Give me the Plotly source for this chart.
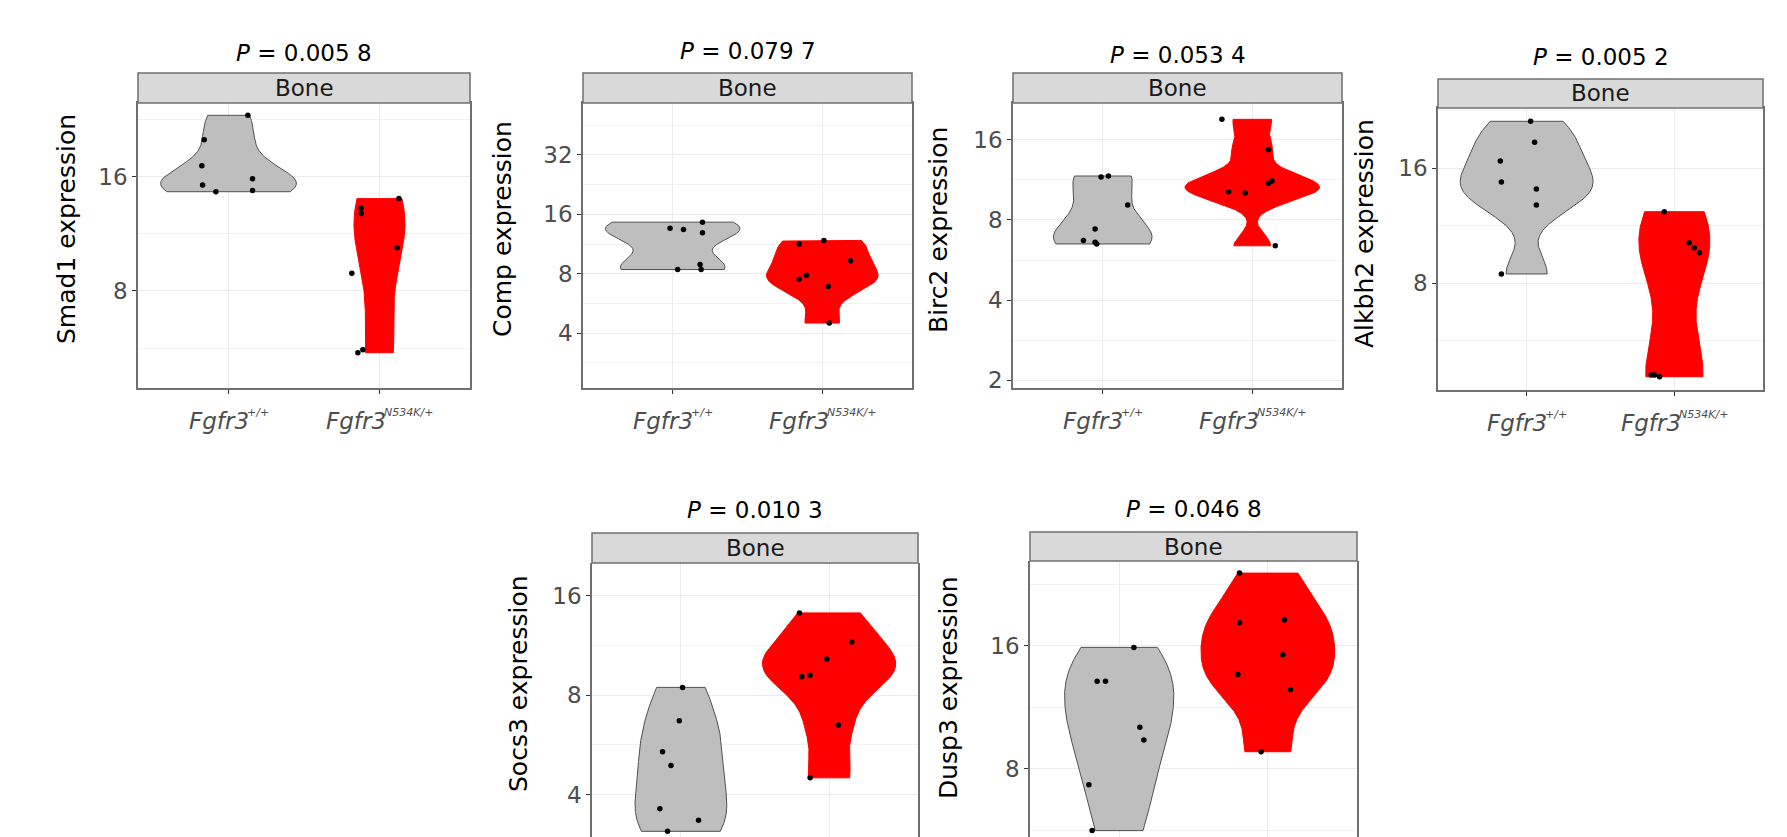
import numpy as np
import plotly.graph_objects as go

W, H = 1787, 837

# ---------------- data ----------------
genes = ["Smad1", "Comp", "Birc2", "Alkbh2", "Socs3", "Dusp3"]
p_values = ["0.005 8", "0.079 7", "0.053 4", "0.005 2", "0.010 3", "0.046 8"]
facet_label = "Bone"
group_names = ["Fgfr3", "Fgfr3"]
group_sup = ["+/+", "N534K/+"]

smad1_wt = [23.2, 20.0, 17.1, 15.2, 14.6, 15.8, 14.7]
smad1_mut = [14.0, 13.2, 12.8, 10.4, 8.9, 5.5, 5.6]
comp_wt = [13.6, 13.4, 14.6, 12.9, 8.4, 8.9, 8.4]
comp_mut = [11.3, 11.8, 9.3, 7.5, 7.85, 6.9, 4.5]
birc2_wt = [11.6, 11.7, 9.1, 7.4, 6.7, 6.6, 6.5]
birc2_mut = [19.1, 14.7, 11.0, 11.2, 10.2, 10.1, 6.4]
alkbh2_wt = [21.2, 18.7, 16.7, 14.7, 14.1, 12.8, 8.45]
alkbh2_mut = [12.3, 10.2, 9.9, 9.6, 4.6, 4.55, 4.6]
socs3_wt = [8.45, 6.7, 5.4, 4.9, 3.63, 3.35, 3.10]
socs3_mut = [14.2, 11.6, 10.3, 9.1, 9.2, 6.5, 4.5]
dusp3_wt = [15.85, 13.1, 13.1, 10.1, 9.4, 7.3, 5.64]
dusp3_mut = [24.1, 18.2, 18.5, 15.2, 13.6, 12.5, 8.8]

# horizontal jitter of the points (category units)
smad1_wt_jit = [0.128, -0.161, -0.177, -0.172, -0.084, 0.159, 0.159]
smad1_mut_jit = [0.129, -0.121, -0.121, 0.117, -0.183, -0.143, -0.110]
comp_wt_jit = [-0.018, 0.072, 0.199, 0.199, 0.033, 0.183, 0.190]
comp_mut_jit = [-0.154, 0.011, 0.189, -0.154, -0.105, 0.040, 0.047]
birc2_wt_jit = [-0.011, 0.038, 0.167, -0.051, -0.129, -0.051, -0.040]
birc2_mut_jit = [-0.203, 0.109, 0.109, 0.132, -0.158, -0.047, 0.154]
alkbh2_wt_jit = [0.027, 0.054, -0.178, -0.171, 0.066, 0.066, -0.171]
alkbh2_mut_jit = [-0.068, 0.100, 0.135, 0.170, -0.157, -0.100, -0.135]
socs3_wt_jit = [0.011, -0.011, -0.124, -0.067, -0.142, 0.119, -0.090]
socs3_mut_jit = [-0.200, 0.153, -0.015, -0.184, -0.128, 0.063, -0.128]
dusp3_wt_jit = [0.099, -0.148, -0.092, 0.139, 0.166, -0.204, -0.182]
dusp3_mut_jit = [-0.190, -0.190, 0.112, 0.101, -0.202, 0.153, -0.045]

# visible y limits of each panel (expression, log2 scale)
y_low = [4.44, 2.11, 1.87, 4.20, 2.98, 5.44]
y_high = [25.0, 58.6, 22.0, 22.97, 20.1, 25.8]
major_ticks = [2, 4, 8, 16, 32]

wt_values = [smad1_wt, comp_wt, birc2_wt, alkbh2_wt, socs3_wt, dusp3_wt]
mut_values = [smad1_mut, comp_mut, birc2_mut, alkbh2_mut, socs3_mut, dusp3_mut]
wt_jitter = [smad1_wt_jit, comp_wt_jit, birc2_wt_jit, alkbh2_wt_jit, socs3_wt_jit, dusp3_wt_jit]
mut_jitter = [smad1_mut_jit, comp_mut_jit, birc2_mut_jit, alkbh2_mut_jit, socs3_mut_jit, dusp3_mut_jit]

# ---------------- layout geometry (pixels) ----------------
# x0, x1, strip_top, plot_top, plot_bottom, title_y, ytitle_x, ytitle_y, bottom_row
panels = [
    (138, 470, 73, 103, 388, 53, 67, 229, False),
    (583, 912, 73, 103, 388, 51, 503, 229, False),
    (1013, 1342, 73, 103, 388, 55, 938, 230, False),
    (1438, 1763, 79, 108, 390, 57, 1365, 234, False),
    (592, 918, 533, 563, 837, 510, 518, 684, True),
    (1030, 1357, 532, 561, 837, 509, 948, 688, True),
]
MAIN_W = 60          # approx. pixel width of the italic "Fgfr3" label
SUP_W = [22, 49]     # approx. pixel width of the superscripts
XLAB_GAP = 33        # label centre below the panel bottom

FONT = "DejaVu Sans"
GRAY_FILL = "#BEBEBE"
RED_FILL = "#FF0000"
BORDER = "#707070"


def fx(px):
    return px / W


def fy(py):
    return 1 - py / H


def bw_nrd0(x):
    x = np.asarray(x, float)
    hi = np.std(x, ddof=1)
    q75, q25 = np.percentile(x, [75, 25])
    lo = min(hi, (q75 - q25) / 1.34)
    if lo <= 0:
        lo = hi if hi > 0 else 1.0
    return 0.9 * lo * len(x) ** -0.2


def kde(x, grid):
    x = np.asarray(x, float)
    h = bw_nrd0(x)
    z = (grid[:, None] - x[None, :]) / h
    return np.exp(-0.5 * z ** 2).sum(1) / (len(x) * h * np.sqrt(2 * np.pi))


fig = go.Figure()
annotations = []
shapes = []

for i in range(6):
    x0, x1, s_top, p_top, p_bot, t_y, yt_x, yt_y, bottom_row = panels[i]
    ax = "" if i == 0 else str(i + 1)
    xref, yref = "x" + ax, "y" + ax

    groups_data = [wt_values[i], mut_values[i]]
    jitters = [wt_jitter[i], mut_jitter[i]]
    fills = [GRAY_FILL, RED_FILL]
    lines = ["#505050", RED_FILL]

    # violin densities on log2 scale, trimmed, scale = "area"
    grids, dens = [], []
    for vals in groups_data:
        lv = np.log2(vals)
        g = np.linspace(lv.min(), lv.max(), 512)
        grids.append(g)
        dens.append(kde(lv, g))
    dmax = max(d.max() for d in dens)

    for k in range(2):
        pos = k + 1
        hw = 0.45 * dens[k] / dmax
        g = grids[k]
        vx = np.concatenate([pos + hw, (pos - hw)[::-1], [pos + hw[0]]])
        vy = 2 ** np.concatenate([g, g[::-1], [g[0]]])
        fig.add_trace(go.Scatter(
            x=vx, y=vy, mode="lines", fill="toself", fillcolor=fills[k],
            line=dict(color=lines[k], width=1), xaxis=xref, yaxis=yref,
            hoverinfo="skip", showlegend=False))
    for k in range(2):
        pos = k + 1
        fig.add_trace(go.Scatter(
            x=[pos + j for j in jitters[k]], y=groups_data[k], mode="markers",
            marker=dict(color="black", size=5.5), xaxis=xref, yaxis=yref,
            showlegend=False))

    lo, hi = y_low[i], y_high[i]
    ticks_in = [t for t in major_ticks if lo <= t <= hi]
    minor_vals = [2 ** (e + 0.5) for e in range(0, 7) if lo <= 2 ** (e + 0.5) <= hi]
    xdom = [fx(x0), fx(x1)]
    ydom = [fy(p_bot), fy(p_top)]

    fig.update_layout(**{
        "xaxis" + ax: dict(
            domain=xdom, anchor=yref, range=[0.4, 2.6], tickvals=[1, 2],
            showticklabels=False,
            ticks="" if bottom_row else "outside", ticklen=4, tickcolor="#333333",
            showgrid=True, gridcolor="#EBEBEB", gridwidth=1.2, zeroline=False,
            showline=not bottom_row, mirror=True, linecolor=BORDER, linewidth=1.5,
            automargin=False, fixedrange=True),
        "yaxis" + ax: dict(
            domain=ydom, anchor=xref, type="log",
            range=[np.log10(lo), np.log10(hi)],
            tickvals=ticks_in, ticktext=[str(t) for t in ticks_in],
            ticks="outside", ticklen=4, tickcolor="#333333",
            tickfont=dict(family=FONT, size=23, color="#4d4d4d"),
            showgrid=True, gridcolor="#EBEBEB", gridwidth=1.2, zeroline=False,
            minor=dict(tickvals=minor_vals, showgrid=True, gridcolor="#F3F3F3",
                       gridwidth=0.7, ticks=""),
            showline=True, mirror=True, linecolor=BORDER, linewidth=1.5,
            automargin=False, fixedrange=True),
    })

    # x category labels (italic gene name + small superscript genotype)
    if not bottom_row:
        for k in range(2):
            split = (MAIN_W - SUP_W[k]) / 2
            annotations.append(dict(
                xref=xref, yref="paper", x=k + 1, y=fy(p_bot + XLAB_GAP),
                text=group_names[k], showarrow=False, xanchor="right",
                yanchor="middle", xshift=split + 2, borderpad=0,
                font=dict(family=FONT, size=23, color="#4d4d4d", style="italic")))
            annotations.append(dict(
                xref=xref, yref="paper", x=k + 1, y=fy(p_bot + XLAB_GAP - 9),
                text=group_sup[k], showarrow=False, xanchor="left",
                yanchor="middle", xshift=split - 2, borderpad=0,
                font=dict(family=FONT, size=11, color="#4d4d4d", style="italic")))

    # strip
    shapes.append(dict(type="rect", xref="paper", yref="paper",
                       x0=fx(x0), x1=fx(x1), y0=fy(p_top), y1=fy(s_top),
                       fillcolor="#D9D9D9", line=dict(color=BORDER, width=1.5),
                       layer="above"))
    annotations.append(dict(xref="paper", yref="paper", x=fx((x0 + x1) / 2),
                            y=fy((s_top + p_top) / 2), text=facet_label,
                            showarrow=False, xanchor="center", yanchor="middle",
                            font=dict(family=FONT, size=23, color="#1a1a1a")))
    # title
    annotations.append(dict(xref="paper", yref="paper", x=fx((x0 + x1) / 2),
                            y=fy(t_y), text="<i>P</i> = " + p_values[i],
                            showarrow=False, xanchor="center", yanchor="middle",
                            font=dict(family=FONT, size=23, color="black")))
    # y title
    annotations.append(dict(xref="paper", yref="paper", x=fx(yt_x), y=fy(yt_y),
                            text=genes[i] + " expression", textangle=-90,
                            showarrow=False, xanchor="center", yanchor="middle",
                            font=dict(family=FONT, size=25, color="black")))

fig.update_layout(
    width=W, height=H, template="none",
    margin=dict(l=0, r=0, t=0, b=0),
    paper_bgcolor="white", plot_bgcolor="white",
    showlegend=False, annotations=annotations, shapes=shapes,
)

fig.write_html("out.html")
